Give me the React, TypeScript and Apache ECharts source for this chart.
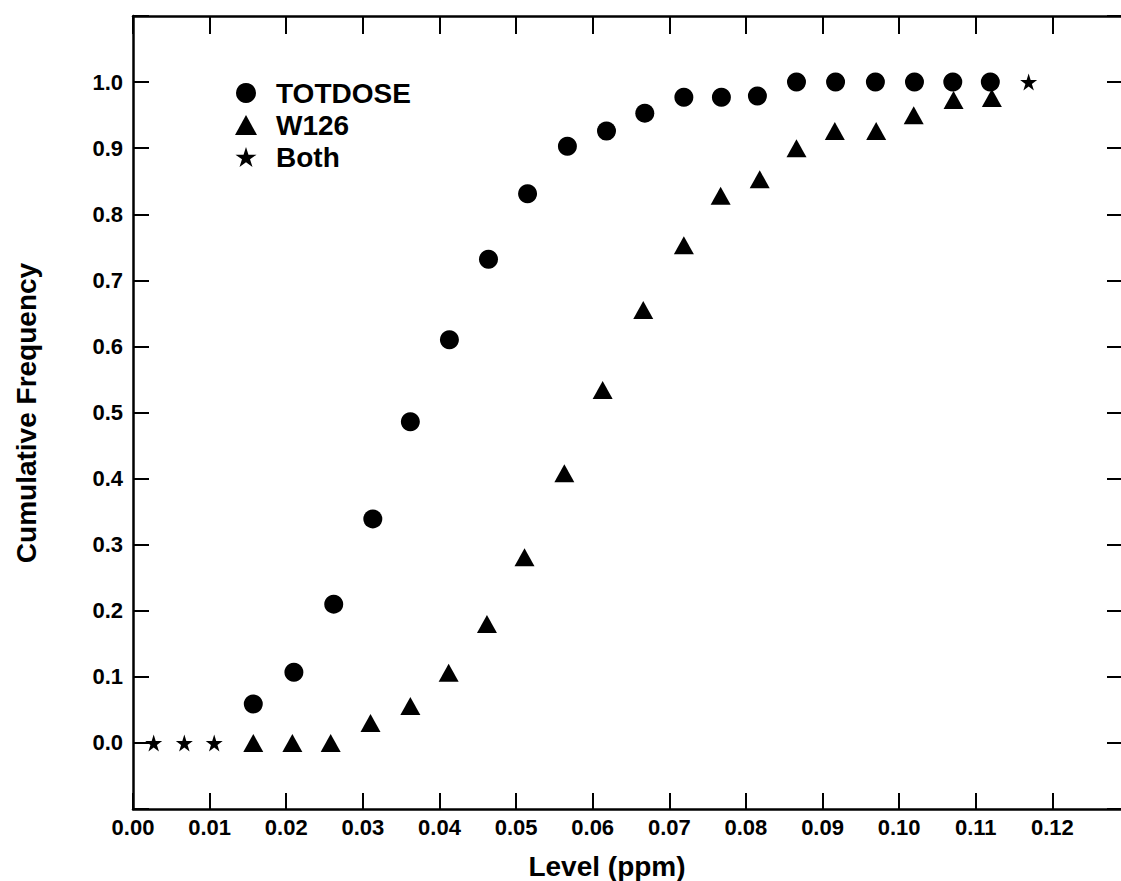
import React, { useEffect, useRef } from "react";
import * as echarts from "echarts";

// ---- Data ----
const totdoseX = [0.0157, 0.021, 0.0262, 0.0313, 0.0362, 0.0413, 0.0464, 0.0515, 0.0567, 0.0618, 0.0668, 0.0719, 0.0768, 0.0815, 0.0866, 0.0917, 0.0969, 0.102, 0.107, 0.1119];
const totdoseY = [0.059, 0.107, 0.21, 0.339, 0.486, 0.61, 0.732, 0.831, 0.903, 0.926, 0.953, 0.977, 0.977, 0.979, 1.0, 1.0, 1.0, 1.0, 1.0, 1.0];

const w126X = [0.0157, 0.0208, 0.0258, 0.031, 0.0362, 0.0412, 0.0462, 0.0511, 0.0563, 0.0613, 0.0666, 0.0719, 0.0767, 0.0818, 0.0866, 0.0916, 0.097, 0.1019, 0.1071, 0.1121];
const w126Y = [0, 0, 0, 0.03, 0.056, 0.106, 0.18, 0.281, 0.408, 0.534, 0.655, 0.753, 0.828, 0.853, 0.9, 0.926, 0.926, 0.95, 0.973, 0.976];

const bothX = [0.0027, 0.0067, 0.0106, 0.1169];
const bothY = [0, 0, 0, 1.0];

const seriesNames = ["TOTDOSE", "W126", "Both"];
const xTitle = "Level (ppm)";
const yTitle = "Cumulative Frequency";

const STAR =
  "path://M50 0 L61.23 34.55 L97.55 34.55 L68.17 55.9 L79.39 90.45 L50 69.1 L20.61 90.45 L31.83 55.9 L2.45 34.55 L38.77 34.55 Z";

const FONT = "'Liberation Sans', Arial, Helvetica, sans-serif";

const zip = (xs: number[], ys: number[]) => xs.map((x, i) => [x, ys[i]]);

export default function App() {
  const ref = useRef<HTMLDivElement>(null);

  useEffect(() => {
    if (!ref.current) return;
    const chart = echarts.init(ref.current, null, { renderer: "svg" });
    const axisLine = { show: true, onZero: false, lineStyle: { color: "#000", width: 2.5 } };
    const marker = { color: "#000", opacity: 1 };
    chart.setOption({
      animation: false,
      backgroundColor: "#fff",
      grid: { left: 133, top: 16, width: 996, height: 793, containLabel: false },
      legend: {
        orient: "vertical",
        left: 235,
        top: 79,
        itemWidth: 22,
        itemHeight: 20,
        itemGap: 4,
        padding: 0,
        selectedMode: false,
        itemStyle: { color: "#000", opacity: 1 },
        textStyle: { fontFamily: FONT, fontSize: 28, fontWeight: "bold", color: "#000", padding: [0, 0, 0, 14] },
        data: [
          { name: seriesNames[0], icon: "circle" },
          { name: seriesNames[1], icon: "triangle" },
          { name: seriesNames[2], icon: STAR },
        ],
      },
      xAxis: [
        {
          type: "value",
          position: "bottom",
          min: 0,
          max: 0.13,
          interval: 0.01,
          axisLine,
          axisTick: { show: true, inside: true, length: 16, lineStyle: { color: "#000", width: 2 } },
          axisLabel: {
            margin: 7,
            fontFamily: FONT,
            fontSize: 22,
            fontWeight: "bold",
            color: "#000",
            formatter: (v: number) => (v > 0.125 ? "" : v.toFixed(2)),
          },
          splitLine: { show: false },
        },
        {
          type: "value",
          position: "top",
          min: 0,
          max: 0.13,
          interval: 0.01,
          axisLine,
          axisTick: { show: true, inside: true, length: 18, lineStyle: { color: "#000", width: 2 } },
          axisLabel: { show: false },
          splitLine: { show: false },
        },
      ],
      yAxis: [
        {
          type: "value",
          position: "left",
          min: -0.1,
          max: 1.1,
          interval: 0.1,
          axisLine,
          axisTick: { show: true, inside: true, length: 16, lineStyle: { color: "#000", width: 2 } },
          axisLabel: {
            margin: 10,
            fontFamily: FONT,
            fontSize: 22,
            fontWeight: "bold",
            color: "#000",
            formatter: (v: number) => (v < -0.05 || v > 1.05 ? "" : v.toFixed(1)),
          },
          splitLine: { show: false },
        },
        {
          type: "value",
          position: "right",
          min: -0.1,
          max: 1.1,
          interval: 0.1,
          axisLine,
          axisTick: { show: true, inside: true, length: 22, lineStyle: { color: "#000", width: 2 } },
          axisLabel: { show: false },
          splitLine: { show: false },
        },
      ],
      graphic: [
        {
          type: "text",
          x: 607,
          y: 866,
          style: {
            text: xTitle,
            textAlign: "center",
            textVerticalAlign: "middle",
            fontFamily: FONT,
            fontSize: 28,
            fontWeight: "bold",
            fill: "#000",
          },
        },
        {
          type: "text",
          x: 26,
          y: 413,
          rotation: Math.PI / 2,
          style: {
            text: yTitle,
            textAlign: "center",
            textVerticalAlign: "middle",
            fontFamily: FONT,
            fontSize: 28,
            fontWeight: "bold",
            fill: "#000",
          },
        },
      ],
      series: [
        {
          name: seriesNames[0],
          type: "scatter",
          symbol: "circle",
          symbolSize: 19,
          itemStyle: marker,
          data: zip(totdoseX, totdoseY),
        },
        {
          name: seriesNames[1],
          type: "scatter",
          symbol: "triangle",
          symbolSize: [20, 18],
          itemStyle: marker,
          data: zip(w126X, w126Y),
        },
        {
          name: seriesNames[2],
          type: "scatter",
          symbol: STAR,
          symbolSize: 17,
          itemStyle: marker,
          data: zip(bothX, bothY),
        },
      ],
    });
    return () => chart.dispose();
  }, []);

  return (
    <div
      style={{ position: "absolute", left: 0, top: 0, width: 1121, height: 881, overflow: "hidden" }}
    >
      <div ref={ref} style={{ width: 1150, height: 881 }} />
    </div>
  );
}
